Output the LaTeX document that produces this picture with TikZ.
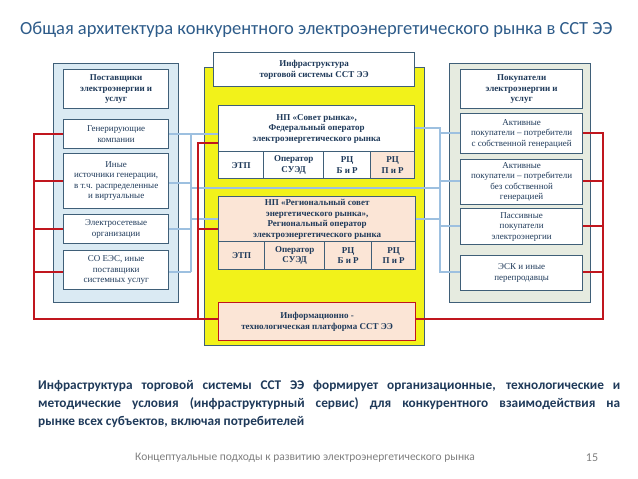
\documentclass[tikz,border=0pt]{standalone}
\usepackage{fontspec}
\setmainfont{Liberation Serif}
\newfontfamily\carl{Carlito}
\definecolor{bord}{HTML}{3F5F78}
\definecolor{txt}{HTML}{1F3A5A}
\definecolor{lblue}{HTML}{DAEAF3}
\definecolor{lgray}{HTML}{E6EBE0}
\definecolor{yel}{HTML}{F2F21A}
\definecolor{peach}{HTML}{FBE5D6}
\definecolor{redl}{HTML}{C0161E}
\definecolor{bluel}{HTML}{9DC0E0}
\definecolor{titc}{HTML}{2E5C8A}
\begin{document}
\begin{tikzpicture}[x=1pt,y=-1pt,
  bx/.style={draw=bord,line width=1.3pt,fill=white,anchor=north west,inner sep=0pt,align=center,text=txt,font=\fontsize{9}{10.5}\selectfont},
  hb/.style={font=\bfseries\fontsize{9}{10.5}\selectfont},
  rl/.style={draw=redl,line width=1.1pt},
  bl/.style={draw=bluel,line width=1.1pt}]
\useasboundingbox (0,0) rectangle (638,479);
\fill[white] (0,0) rectangle (638,479);
\node[anchor=west,text=titc,inner sep=0,font=\carl\fontsize{18.5}{20}\selectfont] (title) at (20,30) {Общая архитектура конкурентного электроэнергетического рынка в ССТ ЭЭ};
% panels
\node[draw=bord,line width=1.3pt,fill=lblue,anchor=north west,minimum width=125,minimum height=239,inner sep=0] (lp) at (53,63) {};
\node[draw=bord,line width=1.3pt,fill=lgray,anchor=north west,minimum width=141,minimum height=239,inner sep=0] (rp) at (449,63) {};
\node[draw=bord,line width=1.3pt,fill=yel,anchor=north west,minimum width=220,minimum height=278,inner sep=0] (cp) at (204,67) {};
% wires
\draw[bl] (191,134) -- (191,272);
\draw[bl] (168,134) -- (218,134);
\draw[bl] (168,183) -- (191,183);
\draw[bl] (168,229) -- (191,229);
\draw[bl] (168,272) -- (191,272);
\draw[bl] (191,188) -- (440,188);
\draw[bl] (191,219) -- (218,219);
\draw[bl] (414,128) -- (440,128) -- (440,272) -- (460,272);
\draw[bl] (415,219) -- (440,219);
\draw[bl] (440,133) -- (460,133);
\draw[bl] (440,181) -- (460,181);
\draw[bl] (440,226) -- (460,226);
\draw[rl] (63,134) -- (34,134) -- (34,319) -- (218,319);
\foreach \y in {181,229,272} \draw[rl] (34,\y) -- (63,\y);
\draw[rl] (218,143) -- (198,143) -- (198,319);
\draw[rl] (198,229) -- (218,229);
\draw[rl] (582,133) -- (603,133) -- (603,319) -- (415,319);
\foreach \y in {181,226,272} \draw[rl] (582,\y) -- (603,\y);
% left boxes
\node[bx,hb,minimum width=105,minimum height=39] (lh) at (63,69) {Поставщики\\электроэнергии и\\услуг};
\node[bx,minimum width=105,minimum height=29] (l1) at (63,119) {Генерирующие\\компании};
\node[bx,minimum width=105,minimum height=55] (l2) at (63,153) {Иные\\источники генерации,\\в т.ч. распределенные\\и виртуальные};
\node[bx,minimum width=105,minimum height=29] (l3) at (63,214) {Электросетевые\\организации};
\node[bx,minimum width=105,minimum height=39] (l4) at (63,250) {СО ЕЭС, иные\\поставщики\\системных услуг};
% right boxes
\node[bx,hb,minimum width=122,minimum height=39] (rh) at (460,69) {Покупатели\\электроэнергии и\\услуг};
\node[bx,minimum width=122,minimum height=40] (r1) at (460,113) {Активные\\покупатели – потребители\\с собственной генерацией};
\node[bx,minimum width=122,minimum height=45] (r2) at (460,159) {Активные\\покупатели – потребители\\без собственной\\генерацией};
\node[bx,minimum width=122,minimum height=36] (r3) at (460,208) {Пассивные\\покупатели\\электроэнергии};
\node[bx,minimum width=122,minimum height=35] (r4) at (460,255) {ЭСК и иные\\перепродавцы};
% center
\node[bx,hb,minimum width=201,minimum height=34] (ch) at (213,52) {Инфраструктура\\торговой системы ССТ ЭЭ};
\node[bx,hb,minimum width=196,minimum height=46] (np) at (218,105) {НП «Совет рынка»,\\Федеральный оператор\\электроэнергетического рынка};
\node[bx,hb,minimum width=45,minimum height=27] (n1) at (218,151) {ЭТП};
\node[bx,hb,minimum width=60,minimum height=27] (n2) at (263,151) {Оператор\\СУЭД};
\node[bx,hb,minimum width=47,minimum height=27] (n3) at (323,151) {РЦ\\Б и Р};
\node[bx,hb,fill=peach,minimum width=44,minimum height=27] (n4) at (370,151) {РЦ\\П и Р};
\node[bx,hb,fill=peach,minimum width=197,minimum height=45] (rg) at (218,196) {НП «Региональный совет\\энергетического рынка»,\\Региональный оператор\\электроэнергетического рынка};
\node[bx,hb,fill=peach,minimum width=46,minimum height=28] (g1) at (218,241) {ЭТП};
\node[bx,hb,fill=peach,minimum width=60,minimum height=28] (g2) at (264,241) {Оператор\\СУЭД};
\node[bx,hb,fill=peach,minimum width=47,minimum height=28] (g3) at (324,241) {РЦ\\Б и Р};
\node[bx,hb,fill=peach,minimum width=44,minimum height=28] (g4) at (371,241) {РЦ\\П и Р};
\node[bx,hb,fill=peach,draw=redl,minimum width=197,minimum height=38] (ip) at (218,302) {Информационно -\\технологическая платформа ССТ ЭЭ};
% text
\node[anchor=north west,align=left,text=txt,inner sep=0,font=\carl\bfseries\fontsize{13.3}{18}\selectfont] (body) at (38,380) {\makebox[582pt][s]{Инфраструктура торговой системы ССТ ЭЭ формирует организационные, технологические и}\\\makebox[582pt][s]{методические условия (инфраструктурный сервис) для конкурентного взаимодействия на}\\рынке всех субъектов, включая потребителей};
\node[text=gray,font=\carl\fontsize{11.5}{12}\selectfont] (foot) at (305,458) {Концептуальные подходы к развитию электроэнергетического рынка};
\node[text=gray,font=\carl\fontsize{12}{12}\selectfont] (pg) at (592,458) {15};
\end{tikzpicture}
\end{document}
